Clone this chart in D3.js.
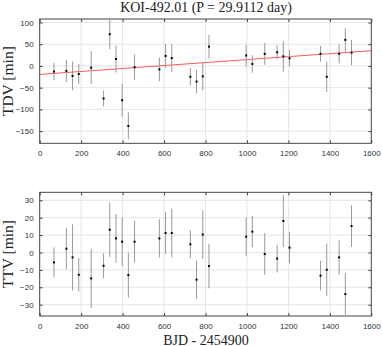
<!DOCTYPE html>
<html><head><meta charset="utf-8">
<script src="https://cdn.jsdelivr.net/npm/d3@7"></script>
<style>body{margin:0;background:#fff}svg{display:block}</style>
</head><body>
<script>
const epochTimes = [68.9,128.7,158.6,188.5,248.4,308.2,338.1,368.0,397.9,427.8,457.7,577.4,607.3,637.2,726.9,756.8,786.8,816.7,996.1,1026.0,1085.9,1145.7,1175.6,1205.5,1355.1,1385.0,1444.8,1474.7,1504.6];
const tdv    = [-13,-11.5,-23,-18.5,-4,-75,73,16,-79,-138,-3,-8,23,18,-25,-36,-24,44.5,24,4.6,27.7,31.5,22,17.6,28,-25,28,60,30.7];
const tdvErr = [20,25,33,23,38,18,34,31,38,31,29,27,27,32,20,27,32,27,25,20,25,16,35,19,18,35,22,27,29];
const ttv    = [-5.7,2.2,-2.8,-12.8,-14.9,-7.6,13.1,8.1,6.2,-13,6.2,8.1,11.2,11.2,4.7,-15.6,10.3,-7.8,9.1,12,-0.9,-3.5,18.1,2.8,-13.3,-9.9,-2.8,-23.9,15.2];
const ttvErr = [8.6,11.8,19,9.6,17,7.2,15.6,14,14,13,12,11,12,14,8,11,14,12.8,11,9,12,8,15,9,8.5,15,10,12,12];
const trendX = [0,1600];
const trendY = [-19.5,35];
const xTicks = [0,200,400,600,800,1000,1200,1400,1600];
const tdvTicks = [-150,-100,-50,0,50,100];
const ttvTicks = [-30,-20,-10,0,10,20,30];
const titleText = "KOI-492.01 (P = 29.9112 day)";

const W=382,H=346;
const svg=d3.select("body").append("svg").attr("width",W).attr("height",H);
const L=39.7,R=371.3;
const x=d3.scaleLinear().domain([0,1600]).range([L,R]);
const serif="'Liberation Serif','Times New Roman',serif";

function panel(top,bottom,ydom,yt,vals,errs,label,trend){
  const y=d3.scaleLinear().domain(ydom).range([bottom,top]);
  const g=svg.append("g");
  g.selectAll(".gx").data(xTicks.slice(1,-1)).enter().append("line")
    .attr("x1",d=>x(d)).attr("x2",d=>x(d)).attr("y1",top).attr("y2",bottom)
    .attr("stroke","#e6e6e6").attr("stroke-width",1);
  g.selectAll(".gy").data(yt).enter().append("line")
    .attr("x1",L).attr("x2",R).attr("y1",d=>y(d)).attr("y2",d=>y(d))
    .attr("stroke","#e6e6e6").attr("stroke-width",1);
  if(trend){
    g.append("line").attr("x1",x(trendX[0])).attr("x2",x(trendX[1]))
      .attr("y1",y(trendY[0])).attr("y2",y(trendY[1]))
      .attr("stroke","#ff5a5a").attr("stroke-width",1);
  }
  g.selectAll(".eb").data(vals).enter().append("line")
    .attr("x1",(d,i)=>x(epochTimes[i])).attr("x2",(d,i)=>x(epochTimes[i]))
    .attr("y1",(d,i)=>y(d-errs[i])).attr("y2",(d,i)=>y(d+errs[i]))
    .attr("stroke","#999").attr("stroke-width",1);
  g.selectAll(".pt").data(vals).enter().append("rect")
    .attr("x",(d,i)=>x(epochTimes[i])-1).attr("y",d=>y(d)-1)
    .attr("width",2).attr("height",2).attr("fill","#000");
  const bot=d3.axisBottom(x).tickValues(xTicks).tickSize(-3).tickPadding(7).tickFormat(d3.format("d"));
  const topA=d3.axisTop(x).tickValues(xTicks).tickSize(-3).tickFormat("");
  const left=d3.axisLeft(y).tickValues(yt).tickSize(-3).tickPadding(6).tickFormat(d3.format("d"));
  const right=d3.axisRight(y).tickValues(yt).tickSize(-3).tickFormat("");
  [[bot,`translate(0,${bottom})`],[topA,`translate(0,${top})`],[left,`translate(${L},0)`],[right,`translate(${R},0)`]].forEach(([a,t])=>{
    const gg=svg.append("g").attr("transform",t).call(a);
    gg.select(".domain").remove();
    gg.selectAll(".tick line").attr("stroke","#444");
    gg.selectAll(".tick text").attr("fill","#333").attr("font-family","'Liberation Sans',Arial,sans-serif").attr("font-size",8);
  });
  svg.append("rect").attr("x",L).attr("y",top).attr("width",R-L).attr("height",bottom-top)
    .attr("fill","none").attr("stroke","#444").attr("stroke-width",1);
  svg.append("text").attr("transform",`translate(12.5,${(top+bottom)/2}) rotate(-90)`)
    .attr("text-anchor","middle").attr("font-family",serif)
    .attr("font-size",15.5).attr("fill","#222").text(label);
}
panel(19,143.3,[-178,108],tdvTicks,tdv,tdvErr,"TDV [min]",true);
panel(192.3,316,[-36.5,34.6],ttvTicks,ttv,ttvErr,"TTV [min]",false);

svg.append("text").attr("x",206).attr("y",12).attr("text-anchor","middle")
  .attr("font-family",serif).attr("font-size",14).attr("fill","#222").text(titleText);
svg.append("text").attr("x",206).attr("y",344.5).attr("text-anchor","middle")
  .attr("font-family",serif).attr("font-size",14).attr("fill","#222").text("BJD - 2454900");
</script>
</body></html>
